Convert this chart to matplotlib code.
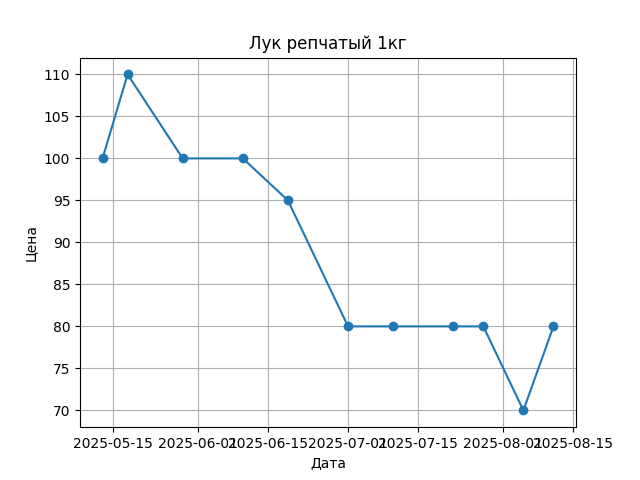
import pandas as pd
import matplotlib
matplotlib.use("Agg")
import matplotlib.pyplot as plt

# Цены на лук по датам
dates = ["2025-05-13", "2025-05-18", "2025-05-29", "2025-06-10", "2025-06-19",
         "2025-07-01", "2025-07-10", "2025-07-22", "2025-07-28", "2025-08-05",
         "2025-08-11"]
prices = [100, 110, 100, 100, 95, 80, 80, 80, 80, 70, 80]

df = pd.DataFrame({"date": pd.to_datetime(dates), "price": prices})

plt.figure(figsize=(6.4, 4.8), dpi=100)
plt.plot(df["date"], df["price"], marker="o")
plt.title("Лук репчатый 1кг")
plt.xlabel("Дата")
plt.ylabel("Цена")
plt.grid(True)

plt.savefig("out.png")
plt.close()
